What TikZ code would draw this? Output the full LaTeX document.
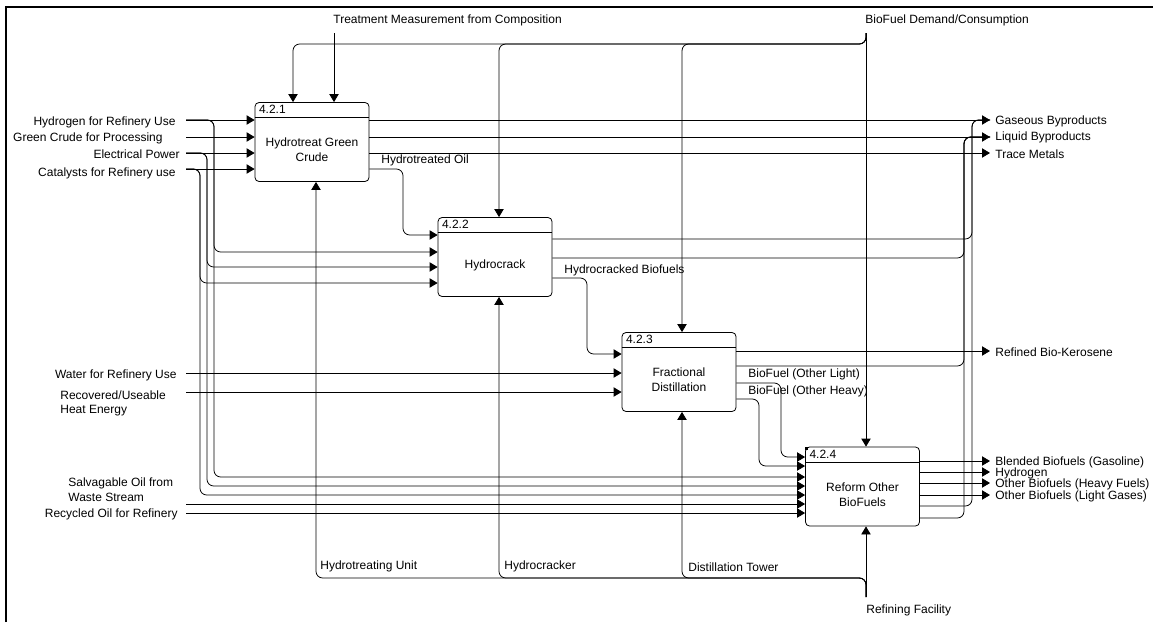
\documentclass[tikz,border=0pt]{standalone}
\usepackage{fontspec}
\setmainfont{Liberation Sans}
\usetikzlibrary{arrows.meta,positioning}
\begin{document}
\begin{tikzpicture}[x=0.75pt, y=-0.75pt, line width=0.6pt,
    >={Triangle[length=6pt,width=7pt]},
    every node/.style={font=\fontsize{9}{11}\selectfont, inner sep=0pt},
    actbox/.style={draw, rounded corners=3pt, minimum width=85.5pt, minimum height=59.25pt},
    pipe/.style={rounded corners=5pt},
    lbl/.style={anchor=west},
    inlbl/.style={anchor=east}]
\useasboundingbox (0,0) rectangle (1153,622);

% frame
\draw[line width=1.5pt] (6,622) -- (6,7) -- (1153,7);

% activity boxes
\node[actbox] (b1) at (312,142) {};
\node[actbox] (b2) at (495,257) {};
\node[actbox] (b3) at (679,372) {};
\node[actbox] (b4) at (862.5,486.5) {};

% box headers
\draw ([yshift=-11.6pt]b1.north west) -- ([yshift=-11.6pt]b1.north east);
\draw ([yshift=-11.6pt]b2.north west) -- ([yshift=-11.6pt]b2.north east);
\draw ([yshift=-11.6pt]b3.north west) -- ([yshift=-11.6pt]b3.north east);
\draw ([yshift=-11.6pt]b4.north west) -- ([yshift=-11.6pt]b4.north east);
\node[lbl] (n1) at ([xshift=3pt,yshift=-5.6pt]b1.north west) {4.2.1};
\node[lbl] (n2) at ([xshift=3pt,yshift=-5.6pt]b2.north west) {4.2.2};
\node[lbl] (n3) at ([xshift=3pt,yshift=-5.6pt]b3.north west) {4.2.3};
\node[lbl] (n4) at ([xshift=3pt,yshift=-5.6pt]b4.north west) {4.2.4};
\fill (b4.north west) rectangle ++(3,3);

% box titles
\node[align=center] (t1) at ([yshift=-6pt]b1.center) {Hydrotreat Green\\Crude};
\node[align=center] (t2) at ([yshift=-6pt]b2.center) {Hydrocrack};
\node[align=center] (t3) at ([yshift=-6pt]b3.center) {Fractional\\Distillation};
\node[align=center] (t4) at ([yshift=-6pt]b4.center) {Reform Other\\BioFuels};

% inputs on the left
\node[inlbl] (hLbl) at (176,122) {Hydrogen for Refinery Use};
\node[inlbl] (gLbl) at (163,138) {Green Crude for Processing};
\node[inlbl] (eLbl) at (180,154) {Electrical Power};
\node[inlbl] (cLbl) at (176,173) {Catalysts for Refinery use};
\node[inlbl] (wLbl) at (177,375) {Water for Refinery Use};
\node[lbl, align=left] (rLbl) at (60,403.5) {Recovered/Useable\\Heat Energy};
\node[lbl, align=left] (sLbl) at (68,489.5) {Salvagable Oil from\\Waste Stream};
\node[inlbl] (yLbl) at (178,514) {Recycled Oil for Refinery};

\coordinate (hIn) at (186,120);
\coordinate (gIn) at (186,137);
\coordinate (eIn) at (186,153);
\coordinate (cIn) at (186,169);
\coordinate (wIn) at (186,373);
\coordinate (rIn) at (186,392);
\coordinate (sIn) at (186,504);
\coordinate (yIn) at (186,513);

\draw[->] (hIn) -- (hIn -| b1.west);
\draw[->] (gIn) -- (gIn -| b1.west);
\draw[->] (eIn) -- (eIn -| b1.west);
\draw[->] (cIn) -- (cIn -| b1.west);
\draw[->, pipe] (hIn) -| (214,252) -- (b2.west |- 214,252);
\draw[->, pipe] (eIn) -| (207,267) -- (b2.west |- 207,267);
\draw[->, pipe] (cIn) -| (200,283) -- (b2.west |- 200,283);
\draw[->, pipe] (hIn) -| (214,477) -- (b4.west |- 214,477);
\draw[->, pipe] (eIn) -| (207,486) -- (b4.west |- 207,486);
\draw[->, pipe] (cIn) -| (200,495) -- (b4.west |- 200,495);
\draw[->] (wIn) -- (wIn -| b3.west);
\draw[->] (rIn) -- (rIn -| b3.west);
\draw[->] (sIn) -- (sIn -| b4.west);
\draw[->] (yIn) -- (yIn -| b4.west);

% flows between boxes
\draw[->, pipe] (b1.east |- 0,169) -| (403,235) -- (b2.west |- 0,235);
\node[lbl] (hoLbl) at (381,160) {Hydrotreated Oil};
\draw[->, pipe] (b2.east |- 0,278) -| (587,354) -- (b3.west |- 0,354);
\node[lbl] (hcLbl) at (564,270) {Hydrocracked Biofuels};
\draw[->, pipe] (b3.east |- 0,383) -| (781,457) -- (b4.west |- 0,457);
\draw[->, pipe] (b3.east |- 0,399) -| (759,466) -- (b4.west |- 0,466);
\node[lbl] (olLbl) at (748,374) {BioFuel (Other Light)};
\node[lbl] (ohLbl) at (748,391) {BioFuel (Other Heavy)};

% outputs on the right
\coordinate (gasOut) at (990,120);
\coordinate (liqOut) at (990,137);
\coordinate (trcOut) at (990,153);
\coordinate (kerOut) at (990,351);
\coordinate (blnOut) at (990,461);
\coordinate (hydOut) at (990,472);
\coordinate (hvyOut) at (990,483);
\coordinate (lgtOut) at (990,495);

\draw[->] (b1.east |- gasOut) -- (gasOut);
\draw[->] (b1.east |- liqOut) -- (liqOut);
\draw[->] (b1.east |- trcOut) -- (trcOut);
\draw[pipe] (b2.east |- 0,239) -| (972,120) -- (gasOut);
\draw[pipe] (b4.east |- 0,506) -| (972,120) -- (gasOut);
\draw[pipe] (b2.east |- 0,258) -| (964,137) -- (liqOut);
\draw[pipe] (b3.east |- 0,366) -| (964,137) -- (liqOut);
\draw[pipe] (b4.east |- 0,518) -| (964,137) -- (liqOut);
\draw[->] (b3.east |- kerOut) -- (kerOut);
\draw[->] (b4.east |- blnOut) -- (blnOut);
\draw[->] (b4.east |- hydOut) -- (hydOut);
\draw[->] (b4.east |- hvyOut) -- (hvyOut);
\draw[->] (b4.east |- lgtOut) -- (lgtOut);

\node[lbl] (gasLbl) at (995,121) {Gaseous Byproducts};
\node[lbl] (liqLbl) at (995,137) {Liquid Byproducts};
\node[lbl] (trcLbl) at (995,154) {Trace Metals};
\node[lbl] (kerLbl) at (995,352) {Refined Bio-Kerosene};
\node[lbl] (blnLbl) at (995,462) {Blended Biofuels (Gasoline)};
\node[lbl] (hydLbl) at (995,473) {Hydrogen};
\node[lbl] (hvyLbl) at (995,484) {Other Biofuels (Heavy Fuels)};
\node[lbl] (lgtLbl) at (995,496) {Other Biofuels (Light Gases)};

% controls from the top
\node[lbl] (tmLbl) at (333,20) {Treatment Measurement from Composition};
\node[lbl] (bdLbl) at (865,20) {BioFuel Demand/Consumption};
\coordinate (tmIn) at (334,33);
\coordinate (bdIn) at (866,33);
\draw[->] (tmIn) -- (tmIn |- b1.north);
\draw[->] (bdIn) -- (bdIn |- b4.north);
\draw[->, pipe] (bdIn) |- (293,44) -- (b1.north -| 293,44);
\draw[->, pipe] (bdIn) |- (499,44) -- (b2.north -| 499,44);
\draw[->, pipe] (bdIn) |- (682,44) -- (b3.north -| 682,44);

% mechanisms from the bottom
\node[lbl] (huLbl) at (320,566) {Hydrotreating Unit};
\node[lbl] (hkLbl) at (504,566) {Hydrocracker};
\node[lbl] (dtLbl) at (688,567) {Distillation Tower};
\node[lbl] (rfLbl) at (866,610) {Refining Facility};
\coordinate (rfIn) at (866,597);
\draw[->] (rfIn) -- (rfIn |- b4.south);
\draw[->, pipe] (rfIn) |- (316,578) -- (b1.south -| 316,578);
\draw[->, pipe] (rfIn) |- (499,578) -- (b2.south -| 499,578);
\draw[->, pipe] (rfIn) |- (682,578) -- (b3.south -| 682,578);
\end{tikzpicture}
\end{document}
